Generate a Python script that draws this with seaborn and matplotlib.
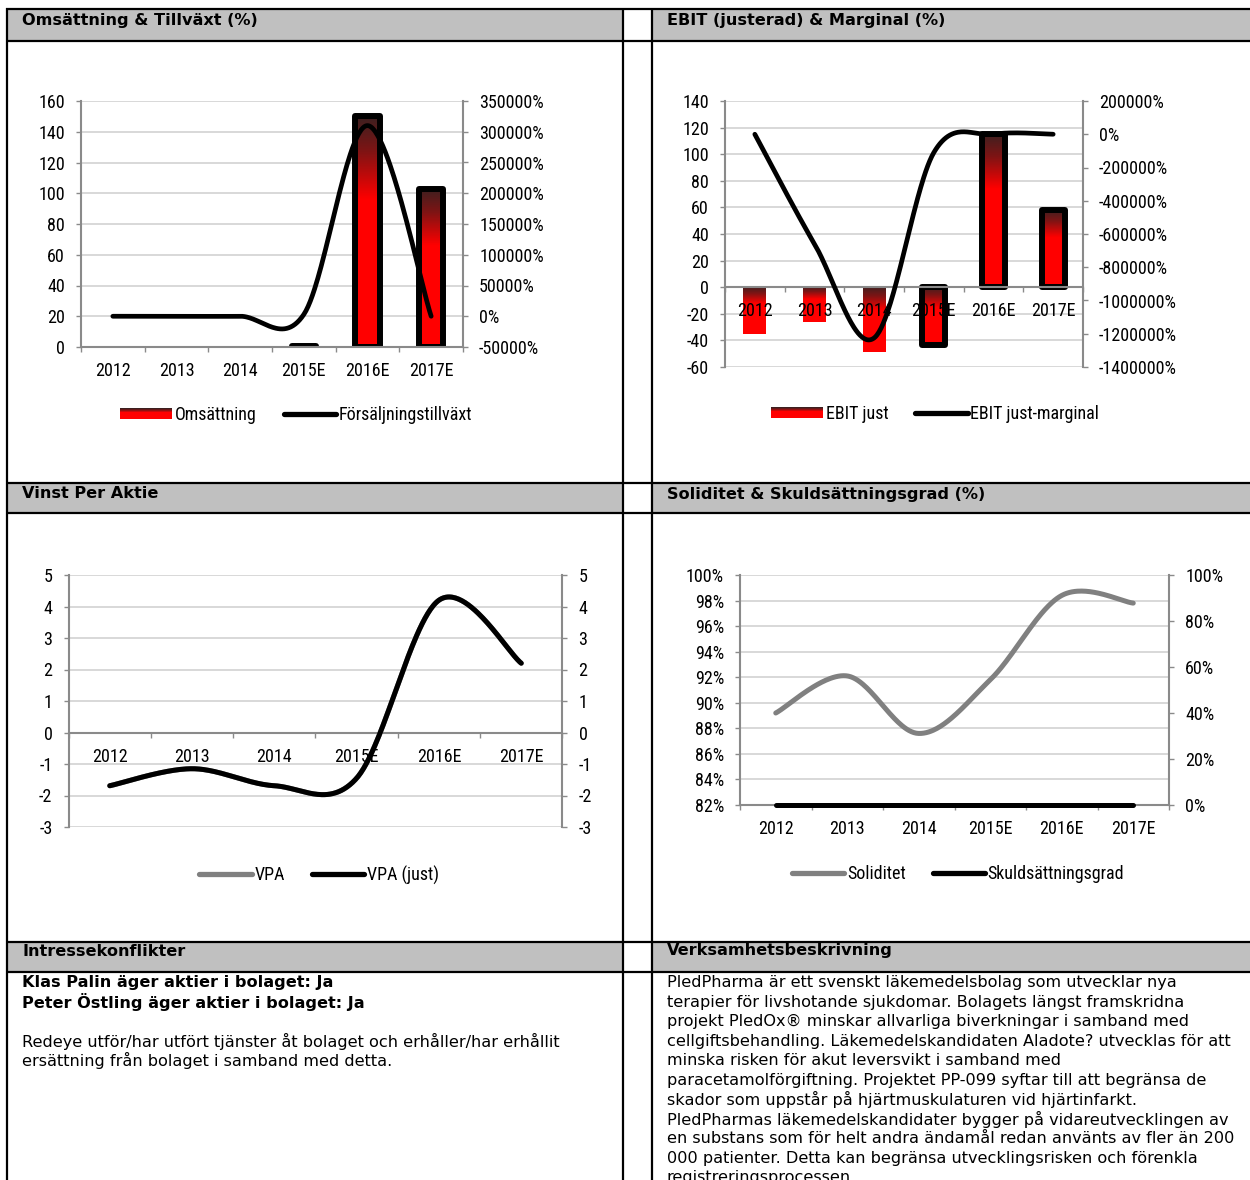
import numpy as np
import pandas as pd
import matplotlib
matplotlib.use("Agg")
import matplotlib.pyplot as plt
import seaborn as sns
from matplotlib import font_manager as fm
from matplotlib.colors import LinearSegmentedColormap
from matplotlib.patches import Rectangle, Patch
from matplotlib.lines import Line2D
from matplotlib.legend_handler import HandlerBase
from matplotlib.ticker import FuncFormatter

# ---------------------------------------------------------------- data
years = ["2012", "2013", "2014", "2015E", "2016E", "2017E"]
is_estimate = [False, False, False, True, True, True]

omsattning = [0, 0, 0, 0.4, 150, 103]
forsaljningstillvaxt = [0, 0, 0, 3000, 310000, -31]           # %

ebit_just = [-35.5, -26.4, -49.0, -43.8, 115.5, 58.0]
ebit_just_marginal = [0, -660000, -1225000, -110000, 77, 56]  # %

vpa = [-1.69, -1.15, -1.69, -1.45, 4.2, 2.2]
vpa_just = [-1.69, -1.15, -1.69, -1.45, 4.2, 2.2]

soliditet = [89.2, 92.1, 87.6, 91.8, 98.4, 97.8]               # %
skuldsattningsgrad = [0, 0, 0, 0, 0, 0]                        # %

headers = [
    ("Omsättning & Tillväxt (%)", "EBIT (justerad) & Marginal (%)"),
    ("Vinst Per Aktie", "Soliditet & Skuldsättningsgrad (%)"),
    ("Intressekonflikter", "Verksamhetsbeskrivning"),
]
konflikt_bold = [
    "Klas Palin äger aktier i bolaget: Ja",
    "Peter Östling äger aktier i bolaget: Ja",
]
konflikt_text = [
    "Redeye utför/har utfört tjänster åt bolaget och erhåller/har erhållit",
    "ersättning från bolaget i samband med detta.",
]
beskrivning = [
    "PledPharma är ett svenskt läkemedelsbolag som utvecklar nya",
    "terapier för livshotande sjukdomar. Bolagets längst framskridna",
    "projekt PledOx® minskar allvarliga biverkningar i samband med",
    "cellgiftsbehandling. Läkemedelskandidaten Aladote? utvecklas för att",
    "minska risken för akut leversvikt i samband med",
    "paracetamolförgiftning. Projektet PP-099 syftar till att begränsa de",
    "skador som uppstår på hjärtmuskulaturen vid hjärtinfarkt.",
    "PledPharmas läkemedelskandidater bygger på vidareutvecklingen av",
    "en substans som för helt andra ändamål redan använts av fler än 200",
    "000 patienter. Detta kan begränsa utvecklingsrisken och förenkla",
    "registreringsprocessen.",
]

# ---------------------------------------------------------------- style
W, H = 1250, 1180
BAND = "#c0c0c0"
AXIS_GRAY = "#8a8a8a"
GRID_GRAY = "#d2d2d2"
LINE_GRAY = "#808080"
PAGE_FONT = ["DejaVu Sans"]
PAGE_SIZE = 11.6


def has_family(name):
    try:
        fm.findfont(fm.FontProperties(family=name), fallback_to_default=False)
        return True
    except ValueError:
        return False


def pick_chart_font():
    """Narrow sans for the chart texts, with a size that keeps the same widths."""
    for name, size in [("Liberation Sans Narrow", 13.3), ("Arial Narrow", 13.3),
                       ("Roboto Condensed", 13)]:
        if has_family(name):
            return name, "normal", size
    path = fm.findfont(fm.FontProperties(family="DejaVu Sans", stretch="condensed"))
    if "Condensed" in path:
        return "DejaVu Sans", "condensed", 11.5
    return "Liberation Sans", "normal", 11


CHART_FAMILY, CHART_STRETCH, FS = pick_chart_font()

sns.set_style("white")
plt.rcParams["font.family"] = [CHART_FAMILY, "DejaVu Sans"]
plt.rcParams["font.stretch"] = CHART_STRETCH
plt.rcParams["axes.unicode_minus"] = False
plt.rcParams["text.color"] = "black"

bar_cmap = LinearSegmentedColormap.from_list(
    "bar", [(0.0, "#3c2020"), (0.15, "#7e1414"), (0.36, "#ff0000"), (1.0, "#ff0000")])

fig = plt.figure(figsize=(W / 100, H / 100), dpi=100)


def rect(x0, y0, x1, y1):
    """pixel box with top-left origin -> figure fraction rect"""
    return [x0 / W, 1 - y1 / H, (x1 - x0) / W, (y1 - y0) / H]


# ---------------------------------------------------------------- page frame
page = fig.add_axes([0, 0, 1, 1])
page.set_xlim(0, W)
page.set_ylim(H, 0)
page.axis("off")
for y0, y1 in [(9, 41), (483, 513), (942, 972)]:
    page.add_patch(Rectangle((7, y0), 616, y1 - y0, facecolor=BAND, edgecolor="none"))
    page.add_patch(Rectangle((652, y0), W - 652, y1 - y0, facecolor=BAND, edgecolor="none"))
for y in [9, 41, 483, 513, 942, 972]:
    page.plot([6, W], [y, y], color="black", lw=1.6, solid_capstyle="butt")
for x in [7, 623, 652]:
    page.plot([x, x], [8, H], color="black", lw=1.6, solid_capstyle="butt")

txt = dict(family=PAGE_FONT, stretch="normal", fontsize=PAGE_SIZE, va="center", color="black")
for (left, right), yc in zip(headers, [20, 494, 951]):
    page.text(22, yc, left, fontweight="bold", **txt)
    page.text(667, yc, right, fontweight="bold", **txt)

yy = 983
for s in konflikt_bold:
    page.text(22, yy, s, fontweight="bold", **txt)
    yy += 19.4
yy += 19.4
for s in konflikt_text:
    page.text(22, yy, s, **txt)
    yy += 19.4
yy = 983
for s in beskrivning:
    page.text(667, yy, s, **txt)
    yy += 19.45


# ---------------------------------------------------------------- helpers
def smooth(values):
    """Smoothed line: cubic Bezier segments through the points."""
    P = np.column_stack([np.arange(len(values)), values]).astype(float)
    E = np.vstack([P[0], P, P[-1]])
    t = np.linspace(0, 1, 60)[:, None]
    parts = []
    for i in range(len(P) - 1):
        p0, p1, p2, p3 = E[i], E[i + 1], E[i + 2], E[i + 3]
        c1 = p1 + (p2 - p0) / 6
        c2 = p2 - (p3 - p1) / 6
        seg = (1 - t) ** 3 * p1 + 3 * (1 - t) ** 2 * t * c1 + 3 * (1 - t) * t ** 2 * c2 + t ** 3 * p2
        parts.append(seg if i == 0 else seg[1:])
    out = np.vstack(parts)
    return out[:, 0], out[:, 1]


def smooth_line(ax, values, color, lw, clip=True):
    sx, sy = smooth(values)
    sns.lineplot(x=sx, y=sy, ax=ax, color=color, lw=lw, sort=False, estimator=None,
                 solid_capstyle="round")
    ax.lines[-1].set_clip_on(clip)


def gradient_bars(ax, values):
    df = pd.DataFrame({"år": years, "värde": values})
    sns.barplot(data=df, x="år", y="värde", ax=ax, width=0.38, color="red",
                saturation=1, errorbar=None)
    for patch, est in zip(list(ax.patches), is_estimate):
        x0, w = patch.get_x(), patch.get_width()
        y0, h = patch.get_y(), patch.get_height()
        lo, hi = min(y0, y0 + h), max(y0, y0 + h)
        if hi > lo:
            im = ax.imshow(np.linspace(0, 1, 256)[:, None], cmap=bar_cmap, origin="upper",
                           extent=(x0, x0 + w, lo, hi), aspect="auto", zorder=1.5,
                           interpolation="bilinear")
            im.set_clip_path(patch)
        patch.set_facecolor("none")
        patch.set_zorder(2)
        if est:
            patch.set_edgecolor("black")
            patch.set_linewidth(4.3)
            patch.set_joinstyle("round")
        else:
            patch.set_edgecolor("none")
            patch.set_linewidth(0)


def pct(v, _):
    return f"{v:.0f}%"


def num(v, _):
    return f"{v:.0f}"


def style(ax, axr, ylim, yticks, rlim, rticks, lfmt, rfmt, zero_axis=False):
    ax.set_xlim(-0.5, 5.5)
    ax.set_ylim(*ylim)
    ax.set_yticks(yticks)
    axr.set_ylim(*rlim)
    axr.set_yticks(rticks)
    ax.yaxis.set_major_formatter(FuncFormatter(lfmt))
    axr.yaxis.set_major_formatter(FuncFormatter(rfmt))
    ax.set_xticks(range(len(years)))
    ax.set_xticklabels(years)
    ax.set_xticks(np.arange(-0.5, len(years)), minor=True)
    ax.set_xlabel("")
    ax.set_ylabel("")
    axr.set_xlabel("")
    axr.set_ylabel("")
    # horizontal grid kept under the bars, axis labels stay above them
    ax.grid(False)
    axr.grid(False)
    for v in yticks:
        ax.axhline(v, color=GRID_GRAY, lw=1.2, zorder=0.5)
    ax.set_axisbelow(False)
    for a in (ax, axr):
        for s in a.spines.values():
            s.set_visible(False)
            s.set_color(AXIS_GRAY)
            s.set_linewidth(1.5)
    ax.spines["left"].set_visible(True)
    ax.spines["bottom"].set_visible(True)
    axr.spines["right"].set_visible(True)
    if zero_axis:
        ax.spines["bottom"].set_position(("data", 0))
    common = dict(direction="out", length=3.6, width=1, color=AXIS_GRAY,
                  labelsize=FS, labelcolor="black", pad=8)
    ax.tick_params(axis="y", which="major", left=True, **common)
    axr.tick_params(axis="y", which="major", right=True, **common)
    ax.tick_params(axis="x", which="major", length=0, labelsize=FS, labelcolor="black",
                   pad=10.8, bottom=True)
    ax.tick_params(axis="x", which="minor", direction="out", length=3.6, width=1,
                   color=AXIS_GRAY, bottom=True)


class GradientPatchHandler(HandlerBase):
    """Legend key drawn as a small vertical dark-to-red gradient."""

    def create_artists(self, legend, orig_handle, xdescent, ydescent, width, height,
                       fontsize, trans):
        n = 12
        cols = bar_cmap(np.linspace(0, 1, n))
        step = height / n
        arts = []
        for i, c in enumerate(cols):
            y = -ydescent + height - (i + 1) * step
            arts.append(Rectangle((-xdescent, y), width, step * 1.05, facecolor=c,
                                  edgecolor="none", transform=trans))
        return arts


def legend(ax, handles, labels, cx, cy):
    ax.legend(handles, labels, loc="center", bbox_to_anchor=(cx / W, 1 - cy / H),
              bbox_transform=fig.transFigure, ncol=2, frameon=False, fontsize=FS,
              handlelength=2.9, handleheight=0.6, handletextpad=0.15, columnspacing=1.5,
              borderaxespad=0, borderpad=0,
              handler_map={Patch: GradientPatchHandler()})


bar_handle = Patch(facecolor="#ff0000", edgecolor="none")


def line_handle(color):
    return Line2D([], [], color=color, lw=3.8, solid_capstyle="round")


# ---------------------------------------------------------------- Omsättning & Tillväxt
ax1 = fig.add_axes(rect(81, 101, 463, 347))
ax1.patch.set_alpha(0)
gradient_bars(ax1, omsattning)
ax1r = ax1.twinx()
smooth_line(ax1r, forsaljningstillvaxt, "black", 3.4)
style(ax1, ax1r, (0, 160), range(0, 161, 20), (-50000, 350000),
      range(-50000, 350001, 50000), num, pct)
legend(ax1r, [bar_handle, line_handle("black")], ["Omsättning", "Försäljningstillväxt"], 296, 415)

# ---------------------------------------------------------------- EBIT & marginal
ax2 = fig.add_axes(rect(725, 101, 1083, 367))
ax2.patch.set_alpha(0)
gradient_bars(ax2, ebit_just)
ax2r = ax2.twinx()
smooth_line(ax2r, ebit_just_marginal, "black", 3.4)
style(ax2, ax2r, (-60, 140), range(-60, 141, 20), (-1400000, 200000),
      range(-1400000, 200001, 200000), num, pct, zero_axis=True)
legend(ax2r, [bar_handle, line_handle("black")], ["EBIT just", "EBIT just-marginal"], 935, 414)

# ---------------------------------------------------------------- Vinst per aktie
ax3 = fig.add_axes(rect(68.6, 575, 562.4, 827))
ax3.patch.set_alpha(0)
smooth_line(ax3, vpa, LINE_GRAY, 3.6)
ax3r = ax3.twinx()
smooth_line(ax3r, vpa_just, "black", 3.6)
style(ax3, ax3r, (-3, 5), range(-3, 6), (-3, 5), range(-3, 6), num, num, zero_axis=True)
legend(ax3r, [line_handle(LINE_GRAY), line_handle("black")], ["VPA", "VPA (just)"], 319, 875)

# ---------------------------------------------------------------- Soliditet & skuldsättning
ax4 = fig.add_axes(rect(740, 575, 1169, 805))
ax4.patch.set_alpha(0)
smooth_line(ax4, soliditet, LINE_GRAY, 3.6)
ax4r = ax4.twinx()
smooth_line(ax4r, skuldsattningsgrad, "black", 3.6, clip=False)
style(ax4, ax4r, (82, 100), range(82, 101, 2), (0, 100), range(0, 101, 20), pct, pct)
legend(ax4r, [line_handle(LINE_GRAY), line_handle("black")], ["Soliditet", "Skuldsättningsgrad"], 958, 874)

fig.savefig("out.png", dpi=100)
